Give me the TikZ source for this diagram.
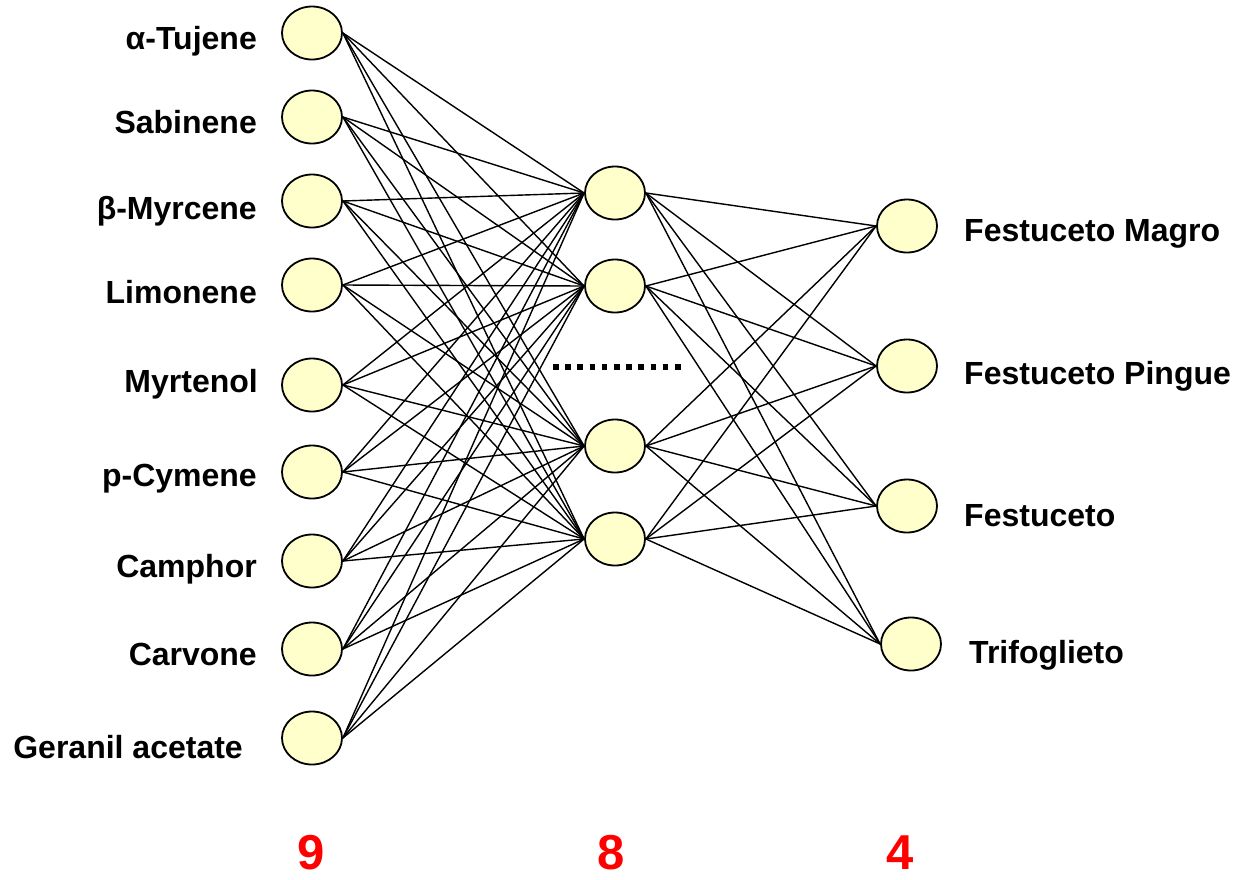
\documentclass[tikz,border=0pt]{standalone}
\usepackage{fontspec}
\setmainfont{Liberation Sans}
\usetikzlibrary{shapes.geometric}
\pgfdeclarelayer{background}
\pgfsetlayers{background,main}
\definecolor{nodefill}{HTML}{FFFFCC}
\definecolor{numred}{HTML}{FF0000}
\tikzset{
  neuron/.style={ellipse, draw=black, line width=1.8pt, fill=nodefill, minimum width=60pt, minimum height=53pt, inner sep=0pt},
  link/.style={draw=black, line width=1.4pt},
  inlabel/.style={anchor=base east, inner sep=0pt, font=\fontsize{32}{36}\selectfont\bfseries},
  outlabel/.style={anchor=base west, inner sep=0pt, font=\fontsize{32}{36}\selectfont\bfseries},
  countlabel/.style={anchor=base, inner sep=0pt, text=numred, font=\fontsize{49}{54}\selectfont\bfseries},
}
\begin{document}
\begin{tikzpicture}[x=1pt,y=-1pt]
\useasboundingbox (0,0) rectangle (1242,879);
% input neurons
\foreach \n/\y in {1/33,2/117,3/201,4/285,5/385,6/472,7/561,8/649,9/738}
  \node[neuron] (i\n) at (312,\y) {};
% hidden neurons
\foreach \n/\y in {1/193,2/286,3/446,4/539}
  \node[neuron] (h\n) at (615,\y) {};
% output neurons
\node[neuron] (o1) at (907,226) {};
\node[neuron] (o2) at (907,366) {};
\node[neuron] (o3) at (907,506) {};
\node[neuron] (o4) at (911,644) {};
% connections
\begin{pgfonlayer}{background}
\foreach \i in {1,...,9}
  \foreach \h in {1,...,4}
    \draw[link] (i\i.east) -- (h\h.west);
\foreach \h in {1,...,4}
  \foreach \o in {1,...,4}
    \draw[link] (h\h.east) -- (o\o.west);
\end{pgfonlayer}
% dotted separator
\coordinate (dl) at (553,367);
\coordinate (dr) at (683,367);
\draw[line width=5.5pt, dash pattern=on 5.5pt off 6.7pt] (dl) -- (dr);
% input labels
\node[inlabel] (l1) at (257,49) {α-Tujene};
\node[inlabel] (l2) at (257,133) {Sabinene};
\node[inlabel] (l3) at (257,219) {β-Myrcene};
\node[inlabel] (l4) at (257,303) {Limonene};
\node[inlabel] (l5) at (258,392) {Myrtenol};
\node[inlabel] (l6) at (257,486) {p-Cymene};
\node[inlabel] (l7) at (257,577) {Camphor};
\node[inlabel] (l8) at (257,665) {Carvone};
\node[inlabel] (l9) at (243,758) {Geranil acetate};
% output labels
\node[outlabel] (r1) at (964,241) {Festuceto Magro};
\node[outlabel] (r2) at (964,384) {Festuceto Pingue};
\node[outlabel] (r3) at (964,526) {Festuceto};
\node[outlabel] (r4) at (969,663) {Trifoglieto};
% layer sizes
\node[countlabel] (c1) at (311,869) {9};
\node[countlabel] (c2) at (611,869) {8};
\node[countlabel] (c3) at (900,869) {4};
\end{tikzpicture}
\end{document}
